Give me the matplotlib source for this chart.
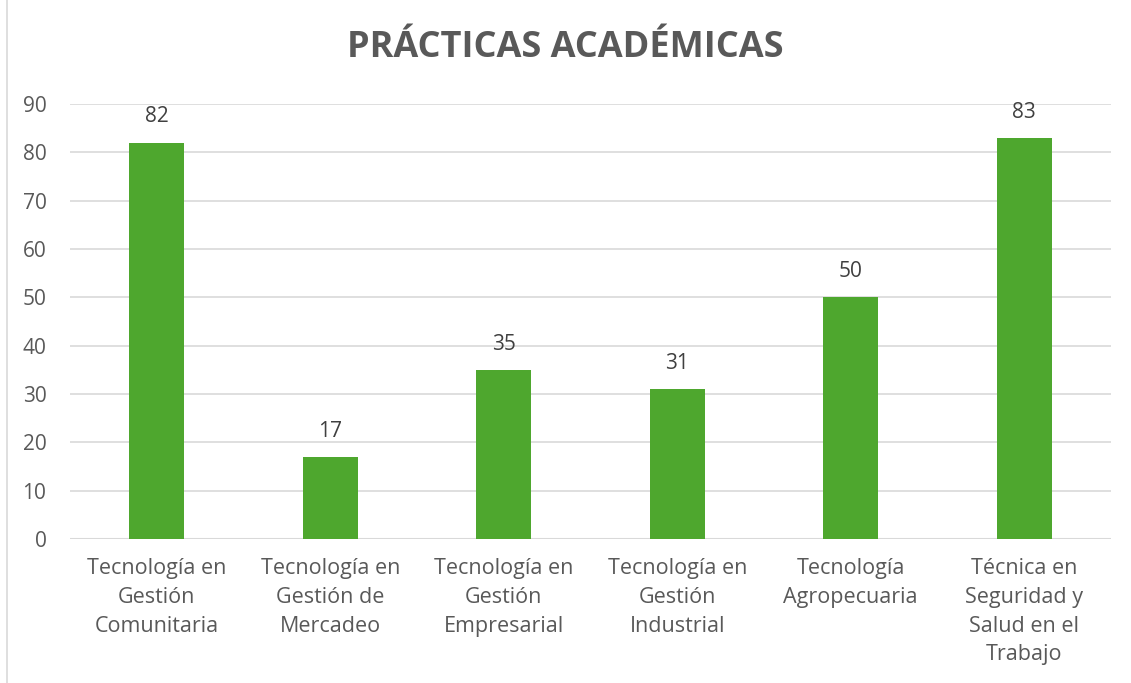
import matplotlib.pyplot as plt
from matplotlib.patches import Rectangle

categories = ["Tecnología en\nGestión\nComunitaria", "Tecnología en\nGestión de\nMercadeo",
              "Tecnología en\nGestión\nEmpresarial", "Tecnología en\nGestión\nIndustrial",
              "Tecnología\nAgropecuaria", "Técnica en\nSeguridad y\nSalud en el\nTrabajo"]
values = [82, 17, 35, 31, 50, 83]
yticks = [0, 10, 20, 30, 40, 50, 60, 70, 80, 90]

plt.rcParams['font.family'] = ['Open Sans', 'DejaVu Sans']
gray = '#595959'

fig = plt.figure(figsize=(11.31, 6.83), dpi=100)
ax = fig.add_axes([0.0619, 0.2108, 0.9204, 0.6369])

x = range(len(values))
ax.bar(x, values, width=0.317, color='#4EA72E', zorder=3)
for i, v in zip(x, values):
    ax.annotate(str(v), (i, v), xytext=(0, 11), textcoords='offset points',
                ha='center', va='bottom', fontsize=15, color='#404040')

ax.set_xlim(-0.5, len(values) - 0.5)
ax.set_ylim(0, 90)
ax.set_yticks(yticks)
ax.set_xticks(list(x))
ax.set_xticklabels(categories, fontsize=15.5, color=gray, linespacing=1.47)
ax.tick_params(axis='y', labelsize=15, labelcolor=gray, length=0, pad=17)
ax.tick_params(axis='x', length=0, pad=14)
ax.grid(axis='y', color='#D9D9D9', linewidth=1.2, zorder=0)
for s in ax.spines.values():
    s.set_visible(False)
ax.axhline(0, color='#D9D9D9', linewidth=1.5, zorder=2)

fig.text(0.5, 0.93, "PRÁCTICAS ACADÉMICAS", ha='center', va='center',
         fontsize=26, fontweight='bold', color=gray)

fig.patches.append(Rectangle((7 / 1131, -0.01), 1.0, 1.02, transform=fig.transFigure,
                             fill=False, edgecolor='#D9D9D9', linewidth=1.2))

fig.savefig('out.png', dpi=100)
